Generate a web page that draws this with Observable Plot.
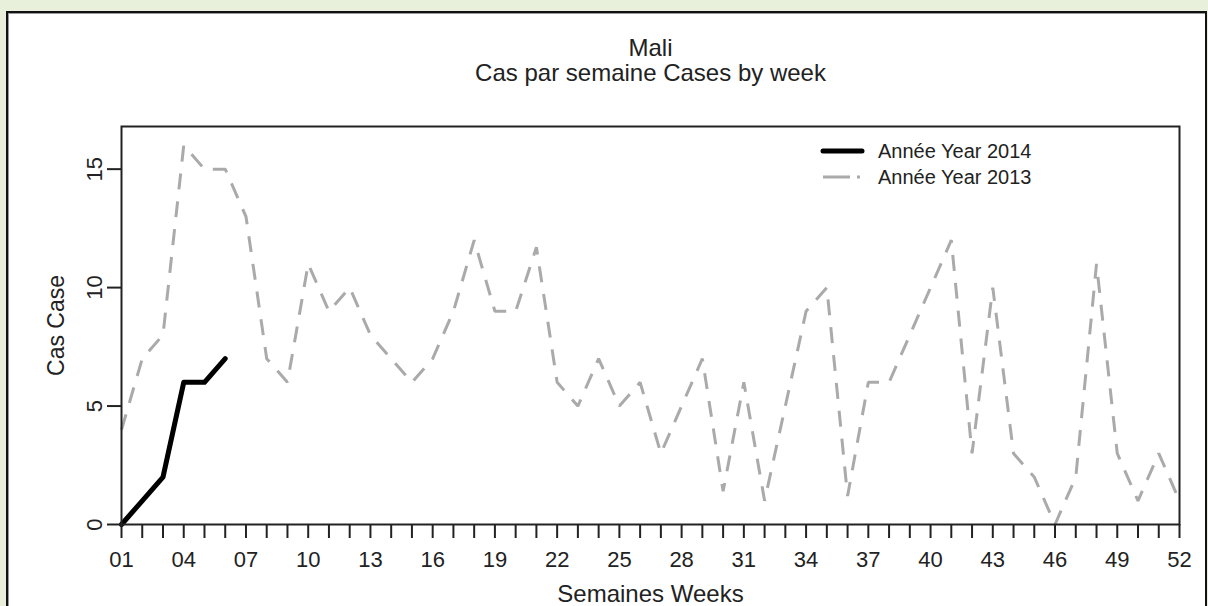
<!DOCTYPE html>
<html>
<head>
<meta charset="utf-8">
<script src="https://cdn.jsdelivr.net/npm/d3@7"></script>
<script src="https://cdn.jsdelivr.net/npm/@observablehq/plot@0.6"></script>
<style>
  html, body { margin: 0; padding: 0; width: 1208px; height: 606px; overflow: hidden; background: #e8f0dc; }
  #panel { position: absolute; left: 6px; top: 11px; width: 1197px; height: 700px; background: #fff; border: 2px solid #111; border-bottom: none; box-shadow: inset 1px 1px 0 #999; }
  #chart { position: absolute; left: 0; top: 0; }
  #legend { position: absolute; left: 0; top: 0; width: 1208px; height: 606px; pointer-events: none; }
  #legend text { font-family: "Liberation Sans", Arial, sans-serif; font-size: 20px; fill: #222; }
</style>
</head>
<body>
<div id="panel"></div>
<div id="chart"></div>
<svg id="legend" width="1208" height="606"></svg>
<script>
// ---- data ----
const weeks2013 = d3.range(1, 53);
const cases2013 = [4,7,8,16,15,15,13,7,6,11,9,10,8,7,6,7,9,12,9,9,11.7,6,5,7,5,6,3,5,7,1.4,6,1,5,9,10,1.2,6,6,8,10,12,3,10,3,2,0,2,11,3,1,3,1];
const weeks2014 = [1,2,3,4,5,6];
const cases2014 = [0,1,2,6,6,7];
const xTicks = d3.range(1, 53);
const xLabelWeeks = d3.range(1, 53, 3);
const yTicks = [0, 5, 10, 15];
const titleLines = ["Mali", "Cas par semaine Cases by week"];
const xLabel = "Semaines Weeks";
const yLabel = "Cas Case";
const seriesNames = ["Année Year 2014", "Année Year 2013"];

const data2013 = weeks2013.map((w, i) => ({week: w, cases: cases2013[i]}));
const data2014 = weeks2014.map((w, i) => ({week: w, cases: cases2014[i]}));

const chart = Plot.plot({
  width: 1208,
  height: 606,
  marginLeft: 121,
  marginRight: 29,
  marginTop: 126,
  marginBottom: 82,
  style: {background: "transparent", fontFamily: "'Liberation Sans', Arial, sans-serif", fontSize: "22px", color: "#222"},
  x: {domain: [1, 52]},
  y: {domain: [0, 16.8]},
  marks: [
    Plot.line(data2013, {x: "week", y: "cases", stroke: "#aaaaaa", strokeWidth: 3, strokeDasharray: "16,12", strokeLinejoin: "miter", strokeLinecap: "butt"}),
    Plot.line(data2014, {x: "week", y: "cases", stroke: "#000", strokeWidth: 5, strokeLinejoin: "round", strokeLinecap: "round"}),
    Plot.frame({stroke: "#222", strokeWidth: 2}),
    Plot.axisX(xTicks, {anchor: "bottom", tickSize: 14, tickPadding: 13, strokeWidth: 2, label: null,
      tickFormat: d => xLabelWeeks.includes(d) ? String(d).padStart(2, "0") : ""}),
    Plot.axisY(yTicks, {anchor: "left", tickSize: 14, strokeWidth: 2, label: null, tickFormat: () => ""}),
    Plot.text(yTicks, {y: d => d, frameAnchor: "left", dx: -27, rotate: -90, text: d => String(d), textAnchor: "middle", lineAnchor: "middle", fill: "#222"}),
    Plot.text([titleLines[0]], {frameAnchor: "top", dy: -71, lineAnchor: "bottom", text: d => d, fill: "#222", fontSize: 24}),
    Plot.text([titleLines[1]], {frameAnchor: "top", dy: -46, lineAnchor: "bottom", text: d => d, fill: "#222", fontSize: 24}),
    Plot.text([xLabel], {frameAnchor: "bottom", dy: 77, lineAnchor: "bottom", text: d => d, fill: "#222", fontSize: 24}),
    Plot.text([yLabel], {frameAnchor: "left", dx: -58, rotate: -90, lineAnchor: "bottom", textAnchor: "middle", text: d => d, fill: "#222", fontSize: 23})
  ]
});
document.getElementById("chart").appendChild(chart);

// ---- legend (inside plot, top right) ----
const lg = d3.select("#legend");
lg.append("line").attr("x1", 823).attr("x2", 862).attr("y1", 151).attr("y2", 151)
  .attr("stroke", "#000").attr("stroke-width", 5).attr("stroke-linecap", "round");
lg.append("line").attr("x1", 823).attr("x2", 862).attr("y1", 177).attr("y2", 177)
  .attr("stroke", "#aaaaaa").attr("stroke-width", 3).attr("stroke-dasharray", "27,7,3,20");
lg.append("text").attr("x", 878).attr("y", 158).text(seriesNames[0]);
lg.append("text").attr("x", 878).attr("y", 184).text(seriesNames[1]);
</script>
</body>
</html>
